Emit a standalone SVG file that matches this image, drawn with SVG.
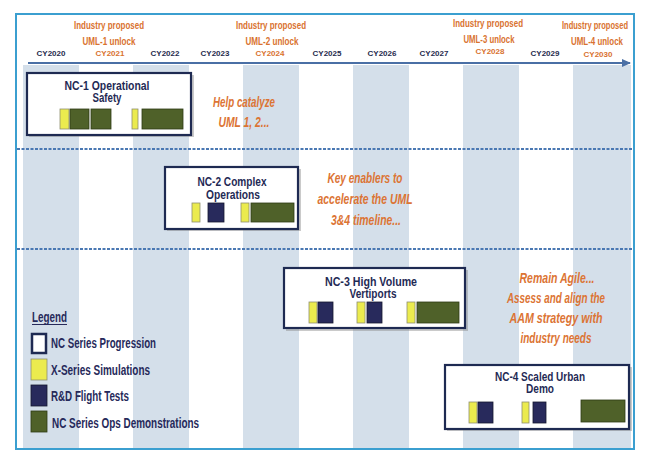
<svg xmlns="http://www.w3.org/2000/svg" width="650" height="466" viewBox="0 0 650 466">
<defs>
<style>
.stripe{fill:#d4dfea}
.yr{font-family:"Liberation Sans",Arial,sans-serif;font-weight:bold;font-size:8px;fill:#1f2b4d;text-anchor:middle}
.yro{font-family:"Liberation Sans",Arial,sans-serif;font-weight:bold;font-size:8px;fill:#d9722f;text-anchor:middle}
.hd{font-family:"Liberation Sans",Arial,sans-serif;font-weight:bold;font-size:11px;fill:#d9722f;text-anchor:middle}
.ttl{font-family:"Liberation Sans",Arial,sans-serif;font-weight:bold;font-size:12px;fill:#1f2a55;text-anchor:middle}
.note{font-family:"Liberation Sans",Arial,sans-serif;font-weight:bold;font-style:italic;font-size:14px;fill:#dc7434;text-anchor:middle}
.lg{font-family:"Liberation Sans",Arial,sans-serif;font-weight:bold;font-size:14px;fill:#26295a}
.box{fill:#fff;stroke:#1e2a52;stroke-width:2.2}
.shadow{fill:#8a8a8a;opacity:0.45}
.y{fill:#ebeb4e;stroke:#8f8f70;stroke-width:0.8}
.n{fill:#282a5c;stroke:#15172f;stroke-width:0.8}
.g{fill:#4f6129;stroke:#2e3a16;stroke-width:0.8}
.dash{stroke:#4a78b3;stroke-width:2;stroke-dasharray:3 1.5;fill:none}
</style>
<marker id="arr" viewBox="0 0 10 10" refX="8" refY="5" markerWidth="5" markerHeight="5" orient="auto">
<path d="M0,1 L9,5 L0,9 z" fill="#4a6fa5"/>
</marker>
</defs>
<rect x="0" y="0" width="650" height="466" fill="#fff"/>
<rect x="16" y="14" width="618" height="435" fill="#fff" stroke="#3b9fd0" stroke-width="2"/>
<g id="stripes">
<rect class="stripe" x="23" y="65" width="56" height="383"/>
<rect class="stripe" x="133" y="65" width="56" height="383"/>
<rect class="stripe" x="243" y="65" width="56" height="383"/>
<rect class="stripe" x="353" y="65" width="56" height="383"/>
<rect class="stripe" x="463" y="65" width="56" height="383"/>
<rect class="stripe" x="573" y="65" width="58" height="383"/>
</g>
<g id="header">
<text class="yr" x="51" y="55.5">CY2020</text>
<text class="yro" x="110" y="55.5">CY2021</text>
<text class="yr" x="165" y="55.5">CY2022</text>
<text class="yr" x="215" y="55.5">CY2023</text>
<text class="yro" x="270" y="55.5">CY2024</text>
<text class="yr" x="327" y="55.5">CY2025</text>
<text class="yr" x="382" y="55.5">CY2026</text>
<text class="yr" x="434" y="55.5">CY2027</text>
<text class="yro" x="490" y="54">CY2028</text>
<text class="yr" x="545" y="55.5">CY2029</text>
<text class="yro" x="598" y="57">CY2030</text>
<text class="hd" x="109" y="29" textLength="70" lengthAdjust="spacingAndGlyphs">Industry proposed</text>
<text class="hd" x="109" y="45" textLength="53" lengthAdjust="spacingAndGlyphs">UML-1 unlock</text>
<text class="hd" x="271" y="29" textLength="70" lengthAdjust="spacingAndGlyphs">Industry proposed</text>
<text class="hd" x="272" y="45" textLength="53" lengthAdjust="spacingAndGlyphs">UML-2 unlock</text>
<text class="hd" x="488" y="27" textLength="70" lengthAdjust="spacingAndGlyphs">Industry proposed</text>
<text class="hd" x="489" y="43" textLength="51" lengthAdjust="spacingAndGlyphs">UML-3 unlock</text>
<text class="hd" x="595" y="29" textLength="66" lengthAdjust="spacingAndGlyphs">Industry proposed</text>
<text class="hd" x="597" y="45" textLength="52" lengthAdjust="spacingAndGlyphs">UML-4 unlock</text>
</g>
<g id="connectors">
<line x1="28" y1="63" x2="630" y2="63" stroke="#4a6fa5" stroke-width="2" marker-end="url(#arr)"/>
<line class="dash" x1="17" y1="149" x2="633" y2="149"/>
<line class="dash" x1="17" y1="249" x2="633" y2="249"/>
</g>
<g id="nc1">
<rect class="shadow" x="29" y="75" width="165" height="62"/>
<rect class="box" x="27" y="73" width="164" height="62"/>
<text class="ttl" x="107" y="89.5" textLength="85" lengthAdjust="spacingAndGlyphs">NC-1 Operational</text>
<text class="ttl" x="107" y="102" textLength="29" lengthAdjust="spacingAndGlyphs">Safety</text>
<rect class="y" x="60" y="109" width="9" height="20"/>
<rect class="g" x="70" y="109" width="19" height="20"/>
<rect class="g" x="91" y="109" width="20" height="20"/>
<rect class="y" x="132" y="109" width="6" height="20"/>
<rect class="g" x="142" y="109" width="41" height="20"/>
</g>
<g id="note1">
<text class="note" x="244" y="107" textLength="62" lengthAdjust="spacingAndGlyphs">Help catalyze</text>
<text class="note" x="244" y="127" textLength="51" lengthAdjust="spacingAndGlyphs">UML 1, 2...</text>
</g>
<g id="nc2">
<rect class="shadow" x="167" y="169" width="134" height="62"/>
<rect class="box" x="165" y="167" width="133" height="62"/>
<text class="ttl" x="232" y="186" textLength="69" lengthAdjust="spacingAndGlyphs">NC-2 Complex</text>
<text class="ttl" x="233" y="198.5" textLength="54" lengthAdjust="spacingAndGlyphs">Operations</text>
<rect class="y" x="192" y="203" width="8" height="19"/>
<rect class="n" x="208" y="203" width="16" height="19"/>
<rect class="y" x="241" y="203" width="8" height="19"/>
<rect class="g" x="251" y="203" width="43" height="19"/>
</g>
<g id="note2">
<text class="note" x="365" y="183" textLength="75" lengthAdjust="spacingAndGlyphs">Key enablers to</text>
<text class="note" x="365" y="204" textLength="95" lengthAdjust="spacingAndGlyphs">accelerate the UML</text>
<text class="note" x="366" y="225" textLength="70" lengthAdjust="spacingAndGlyphs">3&amp;4 timeline...</text>
</g>
<g id="nc3">
<rect class="shadow" x="286" y="270" width="182" height="61"/>
<rect class="box" x="284" y="268" width="181" height="60"/>
<text class="ttl" x="371" y="285.5" textLength="92" lengthAdjust="spacingAndGlyphs">NC-3 High Volume</text>
<text class="ttl" x="373" y="298" textLength="47" lengthAdjust="spacingAndGlyphs">Vertiports</text>
<rect class="y" x="309" y="302" width="8" height="21"/>
<rect class="n" x="318" y="302" width="15" height="21"/>
<rect class="y" x="357" y="302" width="8" height="21"/>
<rect class="n" x="367" y="302" width="15" height="21"/>
<rect class="y" x="407" y="302" width="8" height="21"/>
<rect class="g" x="417" y="302" width="42" height="21"/>
</g>
<g id="note3">
<text class="note" x="557" y="283" textLength="75" lengthAdjust="spacingAndGlyphs">Remain Agile...</text>
<text class="note" x="556" y="303" textLength="98" lengthAdjust="spacingAndGlyphs">Assess and align the</text>
<text class="note" x="556" y="323" textLength="93" lengthAdjust="spacingAndGlyphs">AAM strategy with</text>
<text class="note" x="556" y="343" textLength="71" lengthAdjust="spacingAndGlyphs">industry needs</text>
</g>
<g id="nc4">
<rect class="shadow" x="447" y="367" width="185" height="64"/>
<rect class="box" x="445" y="365" width="184" height="64"/>
<text class="ttl" x="540" y="380.5" textLength="90" lengthAdjust="spacingAndGlyphs">NC-4 Scaled Urban</text>
<text class="ttl" x="540" y="393" textLength="28" lengthAdjust="spacingAndGlyphs">Demo</text>
<rect class="y" x="469" y="402" width="8" height="21"/>
<rect class="n" x="478" y="402" width="15" height="21"/>
<rect class="y" x="522" y="402" width="7" height="21"/>
<rect class="n" x="533" y="402" width="13" height="21"/>
<rect class="g" x="581" y="400" width="44" height="22"/>
</g>
<g id="legend">
<text class="lg" x="32" y="322" textLength="35" lengthAdjust="spacingAndGlyphs">Legend</text>
<line x1="32" y1="324.5" x2="67" y2="324.5" stroke="#26295a" stroke-width="1"/>
<rect x="32" y="334" width="14" height="19" fill="#fff" stroke="#1e2a52" stroke-width="2.5"/>
<text class="lg" x="51" y="348" textLength="105" lengthAdjust="spacingAndGlyphs">NC Series Progression</text>
<rect class="y" x="31" y="359" width="16" height="21"/>
<text class="lg" x="51" y="375" textLength="99" lengthAdjust="spacingAndGlyphs">X-Series Simulations</text>
<rect class="n" x="31" y="385" width="16" height="21"/>
<text class="lg" x="51" y="401" textLength="78" lengthAdjust="spacingAndGlyphs">R&amp;D Flight Tests</text>
<rect class="g" x="31" y="411" width="16" height="21"/>
<text class="lg" x="52" y="428" textLength="147" lengthAdjust="spacingAndGlyphs">NC Series Ops Demonstrations</text>
</g>
</svg>
